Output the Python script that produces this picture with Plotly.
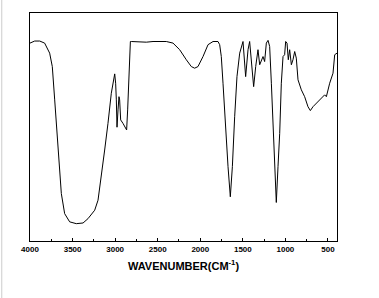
import plotly.graph_objects as go

wavenumber = [4000, 3945, 3886, 3828, 3769, 3738, 3710, 3683, 3659, 3632, 3593, 3534, 3456, 3377, 3319,
              3240, 3201, 3162, 3123, 3084, 3045, 3005, 2994, 2986, 2978, 2966, 2955, 2947, 2935, 2908,
              2876, 2865, 2853, 2837, 2821, 2810, 2712, 2634, 2555, 2477, 2399, 2320, 2242, 2164, 2105,
              2066, 2027, 1968, 1909, 1850, 1792, 1772, 1753, 1733, 1702, 1674, 1647, 1623, 1596, 1569,
              1537, 1498, 1467, 1439, 1420, 1396, 1373, 1349, 1322, 1302, 1283, 1263, 1244, 1224, 1204,
              1185, 1165, 1146, 1126, 1107, 1087, 1067, 1048, 1028, 1009, 997, 981, 966, 950, 930,
              911, 891, 872, 852, 813, 774, 735, 707, 676, 617, 578, 539, 519, 480, 441, 421, 394]
transmittance = [86.8, 87.7, 87.7, 86.8, 82.4, 76.5, 61.9, 47.2, 32.6, 20.8, 12.0, 8.4, 7.6, 7.9, 9.8,
                 13.5, 17.9, 28.2, 39.9, 51.6, 64.8, 73.3, 69.2, 61.9, 49.9, 57.5, 63.3, 61.9, 53.1, 51.6,
                 49.4, 48.7, 57.5, 73.6, 87.5, 87.5, 87.4, 87.2, 87.5, 87.4, 87.5, 86.8, 83.9, 79.5, 76.5,
                 75.8, 76.5, 80.9, 86.1, 87.5, 87.5, 86.1, 80.9, 69.2, 47.2, 32.6, 19.4, 32.6, 54.5, 72.1,
                 82.4, 87.5, 72.1, 83.9, 87.5, 78.0, 67.7, 76.5, 83.9, 77.3, 79.5, 80.9, 78.7, 86.8, 88.0,
                 85.3, 69.2, 50.1, 32.6, 16.9, 32.6, 47.2, 69.2, 80.9, 81.7, 87.5, 86.8, 79.5, 83.9, 77.3,
                 79.5, 83.1, 80.2, 70.7, 66.3, 63.3, 58.9, 57.2, 58.9, 61.1, 62.6, 64.1, 63.3, 69.2, 73.6,
                 81.7, 82.4]

tick_vals = [4000, 3500, 3000, 2500, 2000, 1500, 1000, 500]
tick_text = ["4000", "3500", "3000", "2500", "2000", "1500", "1000", "500"]
x_title = "WAVENUMBER(CM<sup>-1</sup>)"

fig = go.Figure()
fig.add_trace(go.Scatter(x=wavenumber, y=transmittance, mode="lines",
                         line=dict(color="black", width=1), showlegend=False))

fig.update_layout(
    width=379, height=298,
    margin=dict(l=30, r=42, t=13, b=57),
    paper_bgcolor="white", plot_bgcolor="white",
    font=dict(family="Liberation Sans, Arial, sans-serif", color="black"),
    xaxis=dict(
        range=[4000, 394], showgrid=False, zeroline=False,
        showline=True, linecolor="black", linewidth=1, mirror=True,
        ticks="inside", ticklen=3, tickwidth=1, tickcolor="black",
        tickvals=tick_vals, ticktext=tick_text,
        tickfont=dict(size=8, family="Liberation Sans, Arial", weight="bold"),
        minor=dict(ticks="inside", ticklen=2, dtick=250, tickcolor="black"),
        title=dict(text=x_title, font=dict(size=11, weight="bold"), standoff=9),
    ),
    yaxis=dict(
        range=[0, 100], showgrid=False, zeroline=False,
        showline=True, linecolor="black", linewidth=1, mirror=True,
        showticklabels=False, ticks="",
    ),
    shapes=[dict(type="line", xref="paper", yref="paper",
                 x0=-0.092, x1=-0.092, y0=-0.26, y1=1.06,
                 line=dict(color="#cccccc", width=1))],
)

fig.write_html("out.html")
